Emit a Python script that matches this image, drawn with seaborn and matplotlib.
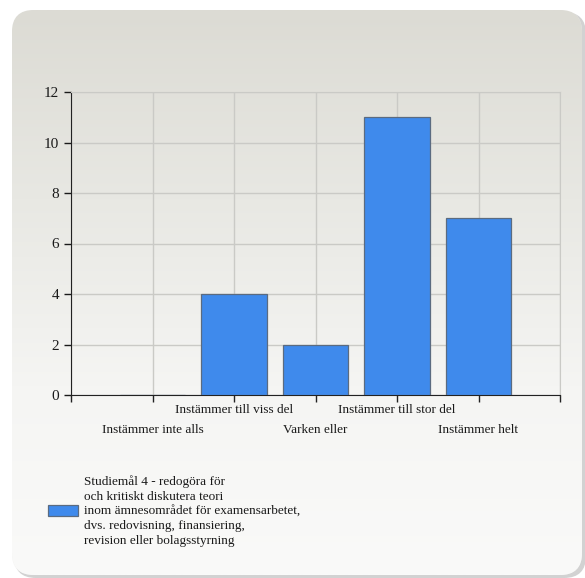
import numpy as np
import pandas as pd
import matplotlib
matplotlib.use("Agg")
import matplotlib.pyplot as plt
from matplotlib.patches import FancyBboxPatch, Patch
import matplotlib.transforms as mtransforms
import seaborn as sns

categories = ["Instämmer inte alls", "Instämmer till viss del", "Varken eller",
              "Instämmer till stor del", "Instämmer helt"]
values = [0, 4, 2, 11, 7]
y_ticks = [0, 2, 4, 6, 8, 10, 12]
series_label = ("Studiemål 4 - redogöra för\noch kritiskt diskutera teori\n"
                "inom ämnesområdet för examensarbetet,\ndvs. redovisning, finansiering,\n"
                "revision eller bolagsstyrning")

df = pd.DataFrame({"kategori": categories, "antal": values})

sns.set_style("white")
plt.rcParams['font.family'] = ['Liberation Serif', 'DejaVu Serif']

fig = plt.figure(figsize=(5.85, 5.78), dpi=100)
fig.patch.set_facecolor("white")

# background panel: rounded, light vertical gradient, soft shadow
bg = fig.add_axes([0, 0, 1, 1], zorder=-10)
bg.set_xlim(0, 585)
bg.set_ylim(578, 0)
bg.axis("off")
shadow = FancyBboxPatch((14, 12), 572, 566, boxstyle="round,pad=0,rounding_size=22",
                        fc="#d2d2d2", ec="none", zorder=-2)
bg.add_patch(shadow)
panel = FancyBboxPatch((12, 10), 570, 565, boxstyle="round,pad=0,rounding_size=22",
                       fc="#f0f0ee", ec="none", zorder=-1)
bg.add_patch(panel)
grad = np.linspace(0, 1, 256).reshape(-1, 1)
cmap = matplotlib.colors.LinearSegmentedColormap.from_list(
    "bg", ["#dcdbd4", "#e8e8e3", "#f5f5f3", "#fafaf9"])
im = bg.imshow(grad, cmap=cmap, extent=[12, 582, 575, 10], aspect="auto", zorder=0)
im.set_clip_path(panel)

ax = fig.add_axes([71 / 585, 1 - 395 / 578, (560 - 71) / 585, (395 - 92) / 578])
ax.patch.set_alpha(0)
sns.barplot(data=df, x="kategori", y="antal", order=categories, color="#3f8aec",
            saturation=1, width=0.8, edgecolor="#5b6b80", linewidth=0.9, ax=ax, zorder=3)

ax.set_xlim(-1, 5)
ax.set_ylim(0, 12)
ax.set_yticks(y_ticks)
ax.set_xticks(range(-1, 6))
ax.set_xticklabels([""] * 7)
# staggered category labels in two rows
trans = mtransforms.blended_transform_factory(ax.transData, ax.transAxes)
for i, c in enumerate(categories):
    y_off = -0.049 if i % 2 == 1 else -0.115
    ax.text(i, y_off, c, transform=trans, ha="center", va="center",
            fontsize=9.5, color="#1a1a1a")
ax.tick_params(axis="y", labelsize=11, colors="#1a1a1a", length=5, width=1, direction="out", left=True)
ax.tick_params(axis="x", length=5, width=1, direction="out", bottom=True, colors="#222222")
ax.grid(True, color="#cacac6", linewidth=1, zorder=0)
ax.set_axisbelow(True)
ax.spines["top"].set_color("#cacac6")
ax.spines["right"].set_color("#cacac6")
ax.spines["left"].set_color("#222222")
ax.spines["bottom"].set_color("#222222")
ax.set_xlabel("")
ax.set_ylabel("")

handle = Patch(facecolor="#3f8aec", edgecolor="#5b6b80", linewidth=0.9)
fig.legend([handle], [series_label], loc="center left",
           bbox_to_anchor=(36 / 585, 1 - 511 / 578), frameon=False,
           handlelength=2.3, handleheight=0.9, handletextpad=0.45,
           labelspacing=0, prop={"size": 9.5})
leg = fig.legends[0]
for t in leg.get_texts():
    t.set_linespacing(1.3)
    t.set_color("#1a1a1a")

fig.savefig("out.png", dpi=100)
